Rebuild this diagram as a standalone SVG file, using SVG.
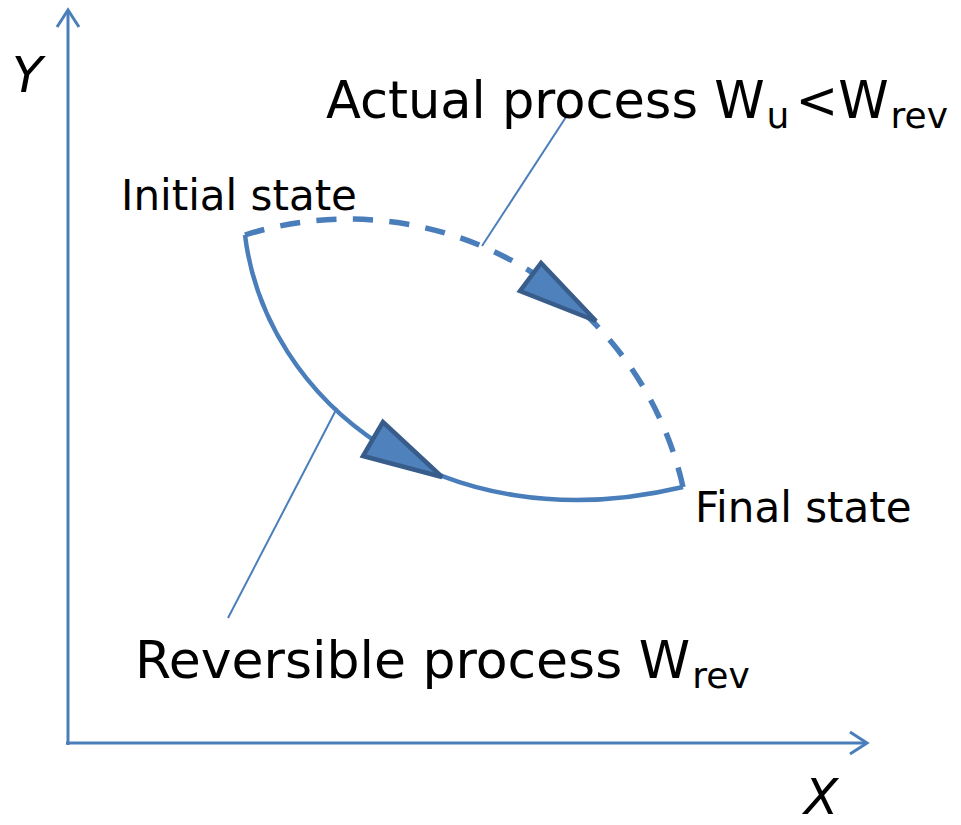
<svg xmlns="http://www.w3.org/2000/svg" width="961" height="825" viewBox="0 0 961 825">
<style>
.ax{fill:none;stroke:#4A7EBB;stroke-width:3}
.curve{fill:none;stroke:#4A7EBB;stroke-width:4.5}
.dash{stroke-width:5.5}
.lead{fill:none;stroke:#4A7EBB;stroke-width:2}
.tri{fill:#4F81BD;stroke:#385D8A;stroke-width:4.5;stroke-linejoin:miter}
text{font-family:"DejaVu Sans","Verdana",sans-serif;fill:#000}
.big{font-size:52px}
.big2{font-size:51px}
.sm{font-size:42px}
.sub{font-size:36px}
.axl{font-size:50px;font-style:italic}
</style>
<rect width="961" height="825" fill="#fff"/>
<g id="axes">
  <line class="ax" x1="68" y1="745" x2="68" y2="10"/>
  <polyline class="ax" points="57,27 68,10 79,27"/>
  <line class="ax" x1="66" y1="743" x2="866" y2="743"/>
  <polyline class="ax" points="850,732 867,743 850,754"/>
</g>
<g id="axis-labels">
  <text class="axl" x="12" y="92">Y</text>
  <text class="axl" x="804" y="814">X</text>
</g>
<g id="connectors">
  <path id="actual" class="curve dash" d="M245,235 A343,343 0 0 1 683,487" pathLength="100" stroke-dasharray="3.553 2.877"/>
  <path id="reversible" class="curve" d="M245,235 C265,400 440,545 683,487"/>
  <line class="lead" x1="566" y1="117" x2="482" y2="246"/>
  <line class="lead" x1="337" y1="408" x2="228" y2="618"/>
  <polygon class="tri" points="541,263 520,291 596,321"/>
  <polygon class="tri" points="383,422 363,456 442,477"/>
</g>
<g id="initial-state">
  <text class="sm" x="121" y="210">Initial state</text>
</g>
<g id="final-state">
  <text class="sm" x="695" y="522">Final state</text>
</g>
<g id="actual-label">
  <text class="big2" x="326" y="118">Actual process W<tspan class="sub" dx="2" dy="10">u</tspan><tspan dx="6" dy="-10">&lt;</tspan>W<tspan class="sub" dx="2" dy="10">rev</tspan></text>
</g>
<g id="reversible-label">
  <text class="big" x="135" y="678">Reversible process W<tspan class="sub" dx="2" dy="10">rev</tspan></text>
</g>
</svg>
